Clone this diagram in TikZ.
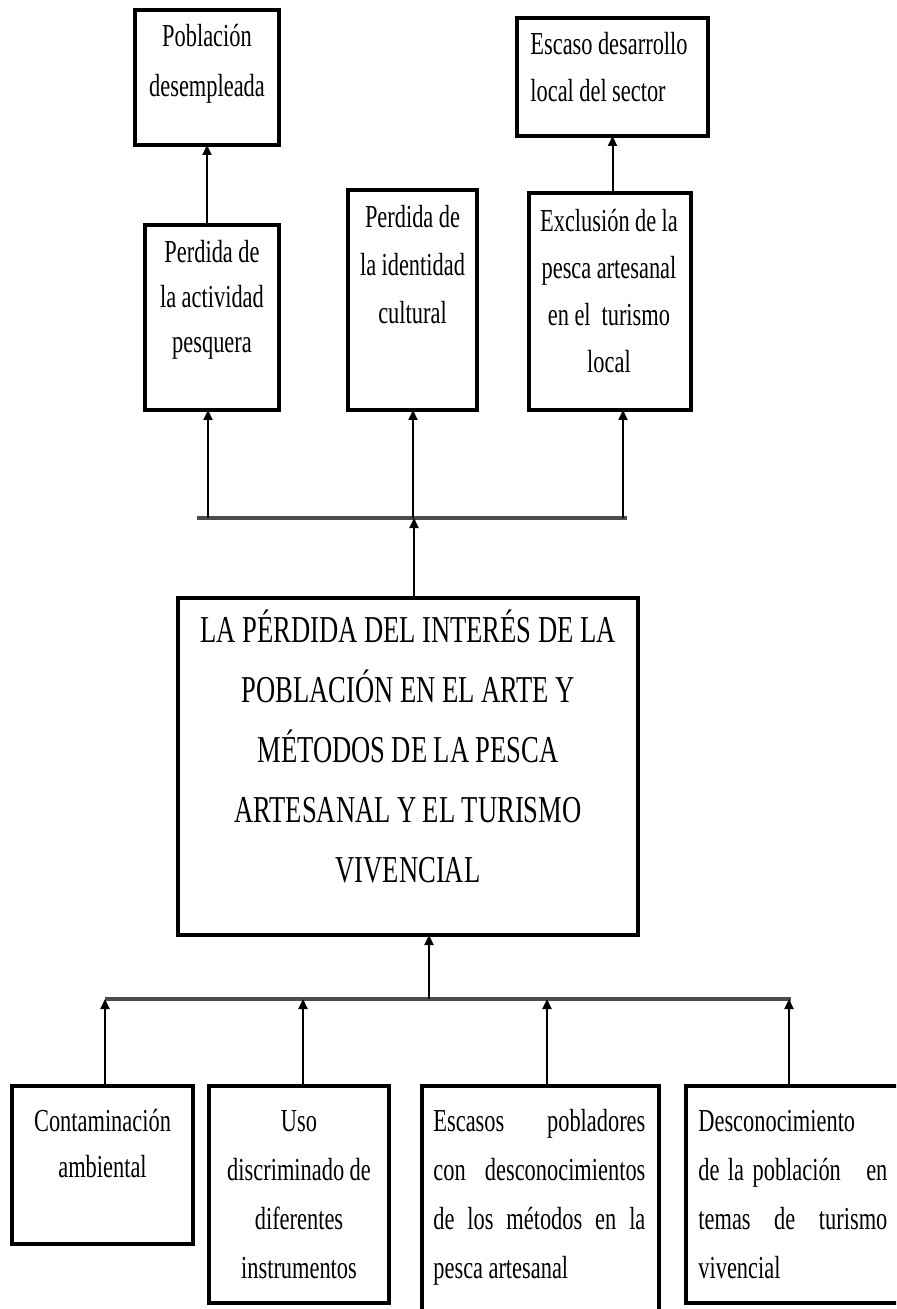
\documentclass[tikz,border=0pt]{standalone}
\usepackage{fontspec}
\setmainfont{Liberation Serif}
\newfontfamily\cf[FakeStretch=0.70]{Liberation Serif}
\usetikzlibrary{arrows.meta}
\newcommand\firstl{\spaceskip=0.17em\relax\xspaceskip=\spaceskip\rule{0pt}{1.05em}}
\newcommand\firstj{\spaceskip=0.17em plus 0.8em minus 0.02em\relax\xspaceskip=\spaceskip\rule{0pt}{1.05em}}
\begin{document}
\begin{tikzpicture}[x=0.5pt,y=-0.5pt,
  box/.style={draw, line width=1.6pt, anchor=north west, inner sep=0pt, outer sep=0pt},
  txt/.style={inner sep=0pt, anchor=north, align=center},
  smalltxt/.style={txt, font=\cf\fontsize{16}{#1}\selectfont},
  conn/.style={line width=1pt, -{Triangle[length=5pt,width=4.5pt]}},
  bar/.style={line width=1.6pt, black!70},
]
\fill[white] (0,0) rectangle (896,1309);
\useasboundingbox (0,0) rectangle (896,1309);
\clip (0,0) rectangle (896,1309);

% ---- effect boxes (top)
\node[box, minimum width=72pt, minimum height=67.5pt] (pob) at (135,10) {};
\node[box, minimum width=67pt, minimum height=92.5pt] (pa) at (145,225) {};
\node[box, minimum width=64.5pt, minimum height=110pt] (pi) at (348,190) {};
\node[box, minimum width=95.5pt, minimum height=59pt] (esc) at (517,18) {};
\node[box, minimum width=81pt, minimum height=108.5pt] (ex) at (529,193) {};

\node[smalltxt=25pt, text width=70pt] (pobT) at (207,13) {\firstl Población\\desempleada};
\node[smalltxt=22.5pt, text width=66pt] (paT) at (212,229) {\firstl Perdida de\\la actividad\\pesquera};
\node[smalltxt=24pt, text width=64pt] (piT) at (412.5,194) {\firstl Perdida de\\la identidad\\cultural};
\node[smalltxt=23.5pt, text width=90pt, anchor=north west, align=left] (escT) at (530,21) {\firstl Escaso desarrollo\\local del sector};
\node[smalltxt=23.5pt, text width=80pt] (exT) at (609,198) {\firstl Exclusión de la\\pesca artesanal\\en el\ \ turismo\\local};

% ---- central problem
\node[box, minimum width=230pt, minimum height=168.5pt] (mn) at (178,598) {};
\node[txt, text width=228pt, font=\cf\fontsize{19}{30}\selectfont] (mnT) at (408,602)
  {\firstl LA PÉRDIDA DEL INTERÉS DE LA\\POBLACIÓN EN EL ARTE Y\\MÉTODOS DE LA PESCA\\ARTESANAL Y EL TURISMO\\VIVENCIAL};

% ---- cause boxes (bottom)
\node[box, minimum width=90.5pt, minimum height=79pt] (c1) at (12,1086) {};
\node[box, minimum width=90pt, minimum height=108.5pt] (c2) at (209,1086) {};
\node[box, minimum width=118.5pt, minimum height=125pt] (c3) at (422,1086) {};
\node[box, minimum width=112pt, minimum height=108.5pt] (c4) at (686,1086) {};

\node[smalltxt=23pt, text width=88pt] (c1T) at (102.5,1097) {\firstl Contaminación\\ambiental};
\node[smalltxt=24.5pt, text width=88pt] (c2T) at (299,1097) {\firstl Uso\\discriminado de\\diferentes\\instrumentos};
\node[smalltxt=24.5pt, text width=106pt, anchor=north west, align=justify] (c3T) at (433,1097)
  {\noindent\firstj Escasos pobladores\linebreak con desconocimientos\linebreak de los métodos en la\linebreak pesca artesanal};
\node[smalltxt=24.5pt, text width=94.5pt, anchor=north west, align=justify] (c4T) at (698,1097)
  {\noindent\firstj Desconocimiento\newline de la población\ \ \ en\linebreak temas de turismo\linebreak vivencial};

% ---- top connectors
\draw[conn] (pa.north -| pob.south) -- (pob.south);
\draw[conn] (ex.north -| esc.south) -- (esc.south);

\coordinate (tbL) at (197,518);
\coordinate (tbR) at (627,518);
\coordinate (t1) at (208,518);
\coordinate (t2) at (413,518);
\coordinate (t3) at (623,518);
\coordinate (tc) at (414,518);
\draw[bar] (tbL) -- (tbR);
\draw[conn] (t1) -- (t1 |- pa.south);
\draw[conn] (t2) -- (t2 |- pi.south);
\draw[conn] (t3) -- (t3 |- ex.south);
\draw[conn] (tc |- mn.north) -- (tc);

% ---- bottom connectors
\coordinate (bbL) at (105,999);
\coordinate (bbR) at (791,999);
\coordinate (b1) at (105,999);
\coordinate (b2) at (303,999);
\coordinate (b3) at (547,999);
\coordinate (b4) at (789,999);
\coordinate (bc) at (429,999);
\draw[bar] (bbL) -- (bbR);
\draw[conn] (bc) -- (bc |- mn.south);
\draw[conn] (b1 |- c1.north) -- (b1);
\draw[conn] (b2 |- c2.north) -- (b2);
\draw[conn] (b3 |- c3.north) -- (b3);
\draw[conn] (b4 |- c4.north) -- (b4);
\end{tikzpicture}
\end{document}
